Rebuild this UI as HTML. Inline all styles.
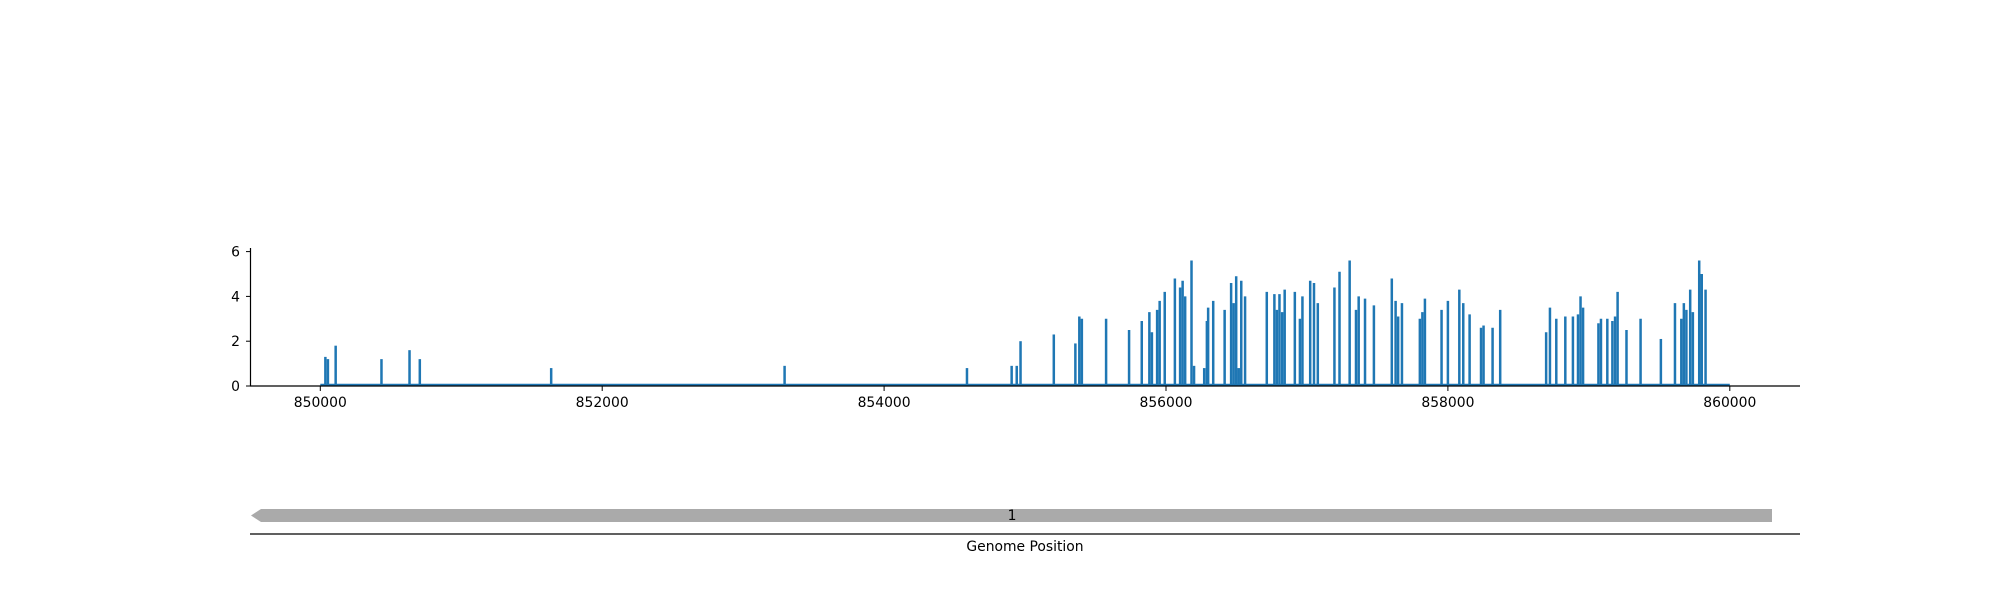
<!DOCTYPE html>
<html><head><meta charset="utf-8"><style>
body{margin:0;background:#fff;}
svg text{font-family:"DejaVu Sans","Liberation Sans",sans-serif;font-size:13.9px;fill:#000;}
</style></head><body>
<svg width="2000" height="600" viewBox="0 0 2000 600" xmlns="http://www.w3.org/2000/svg">
<g id="bars"></g>
<g id="axes"></g>
<g>
<polygon points="251,515.5 261,509 1772,509 1772,522 261,522" fill="#aaaaaa"/>
<text x="1012" y="520" text-anchor="middle">1</text>
<line x1="250" y1="534" x2="1800" y2="534" stroke="#000" stroke-width="1.2"/>
<text x="1025" y="551" text-anchor="middle">Genome Position</text>
</g>
</svg>
<script>
const positions=[850036,850054,850109,850434,850633,850706,851638,853294,854588,854905,854941,854968,855204,855357,855385,855403,855575,855738,855828,855882,855900,855937,855955,855991,856063,856100,856118,856136,856181,856199,856271,856290,856299,856335,856416,856462,856480,856498,856516,856534,856561,856715,856769,856787,856805,856824,856842,856914,856950,856968,857023,857050,857077,857195,857231,857303,857348,857367,857412,857475,857602,857629,857647,857674,857801,857819,857837,857955,858000,858081,858109,858154,858235,858253,858317,858371,858697,858724,858769,858833,858887,858923,858941,858959,859068,859086,859131,859167,859186,859204,859267,859367,859511,859611,859656,859674,859692,859719,859738,859783,859801,859828];
const values=[1.3,1.2,1.8,1.2,1.6,1.2,0.8,0.9,0.8,0.9,0.9,2.0,2.3,1.9,3.1,3.0,3.0,2.5,2.9,3.3,2.4,3.4,3.8,4.2,4.8,4.4,4.7,4.0,5.6,0.9,0.8,2.9,3.5,3.8,3.4,4.6,3.7,4.9,0.8,4.7,4.0,4.2,4.1,3.4,4.1,3.3,4.3,4.2,3.0,4.0,4.7,4.6,3.7,4.4,5.1,5.6,3.4,4.0,3.9,3.6,4.8,3.8,3.1,3.7,3.0,3.3,3.9,3.4,3.8,4.3,3.7,3.2,2.6,2.7,2.6,3.4,2.4,3.5,3.0,3.1,3.1,3.2,4.0,3.5,2.8,3.0,3.0,2.9,3.1,4.2,2.5,3.0,2.1,3.7,3.0,3.7,3.4,4.3,3.3,5.6,5.0,4.3];
const xTicks=[850000,852000,854000,856000,858000,860000];
const yTicks=[0,2,4,6];
const dataStart=850000, dataEnd=860000;
const NS='http://www.w3.org/2000/svg';
function X(v){return 320.3+(v-850000)*0.14095;}
function Y(v){return 386-v*22.4;}
function mk(t,a,p){const e=document.createElementNS(NS,t);for(const k in a)e.setAttribute(k,a[k]);p.appendChild(e);return e;}
const bars=document.getElementById('bars');
const base=mk('line',{x1:X(dataStart),y1:Y(0)-1,x2:X(dataEnd),y2:Y(0)-1,stroke:'#1f77b4','stroke-width':2.5},bars);


positions.forEach((p,i)=>{
  const l=mk('line',{x1:X(p),y1:Y(0),x2:X(p),y2:Y(values[i]),stroke:'#1f77b4','stroke-width':2.5},bars);
  
  
});
const ax=document.getElementById('axes');
const ys=mk('line',{x1:250.5,y1:248,x2:250.5,y2:386,stroke:'#000','stroke-width':1.2},ax);


const xs=mk('line',{x1:250,y1:386,x2:1800,y2:386,stroke:'#000','stroke-width':1.2},ax);


xTicks.forEach(t=>{
  const tk=mk('line',{x1:X(t),y1:386,x2:X(t),y2:391,stroke:'#000','stroke-width':1},ax);
  
  
  const tx=mk('text',{x:X(t),y:407,'text-anchor':'middle'},ax);
  
  
  tx.textContent=t;
});
yTicks.forEach(t=>{
  const tk=mk('line',{x1:246,y1:Y(t),x2:250,y2:Y(t),stroke:'#000','stroke-width':1},ax);
  
  
  const tx=mk('text',{x:240,y:Y(t)+5,'text-anchor':'end'},ax);
  
  
  tx.textContent=t;
});
</script>
</body></html>
